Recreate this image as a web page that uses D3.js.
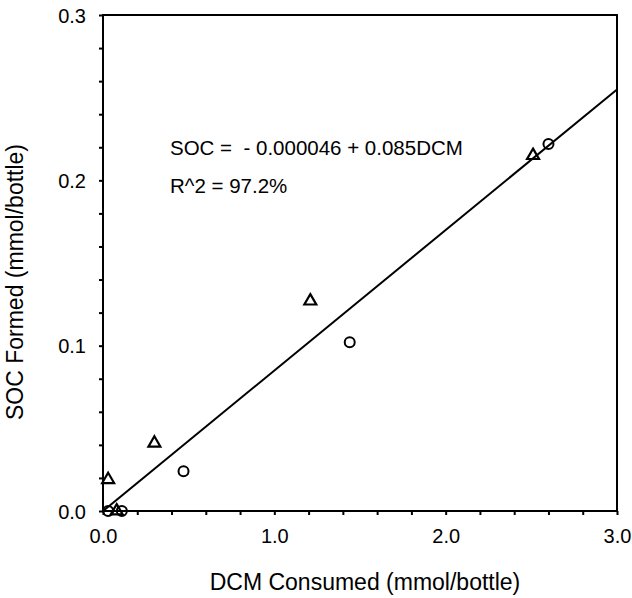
<!DOCTYPE html>
<html>
<head>
<meta charset="utf-8">
<script src="https://cdn.jsdelivr.net/npm/d3@7"></script>
<style>
  body { margin: 0; background: #fff; }
  text { font-family: "Liberation Sans", Arial, sans-serif; fill: #000; }
</style>
</head>
<body>
<div id="chart"></div>
<script>
// Data
const triX = [0.03, 0.08, 0.30, 1.21, 2.51];
const triY = [0.019, 0.0, 0.041, 0.127, 0.215];
const circX = [0.03, 0.11, 0.47, 1.44, 2.60];
const circY = [0.0, 0.0, 0.024, 0.102, 0.222];
const fitIntercept = -0.000046;
const fitSlope = 0.085;
const xTickLabels = ["0.0", "1.0", "2.0", "3.0"];
const yTickLabels = ["0.0", "0.1", "0.2", "0.3"];

const width = 632, height = 598;
const margin = { left: 103, right: 15, top: 15, bottom: 87 };

const svg = d3.select("#chart")
    .append("svg")
    .attr("width", width)
    .attr("height", height);

const x = d3.scaleLinear().domain([0, 3]).range([margin.left, width - margin.right]);
const y = d3.scaleLinear().domain([0, 0.3]).range([height - margin.bottom, margin.top]);

// frame
svg.append("rect")
    .attr("x", x(0)).attr("y", y(0.3))
    .attr("width", x(3) - x(0)).attr("height", y(0) - y(0.3))
    .style("fill", "none").style("stroke", "#000").style("stroke-width", 2);

// x axis: minor ticks every 0.2, labels on whole numbers
const xAxis = d3.axisBottom(x)
    .tickValues(d3.range(0, 3.01, 0.2))
    .tickSize(4)
    .tickSizeOuter(0)
    .tickFormat(d => {
        const i = xTickLabels.indexOf(d.toFixed(1));
        return Math.abs(d - Math.round(d)) < 1e-6 && i >= 0 ? xTickLabels[i] : "";
    });
const gx = svg.append("g").attr("transform", `translate(0,${y(0)})`).call(xAxis);
gx.select(".domain").remove();
gx.selectAll("line").style("stroke", "#000").style("stroke-width", 2);
gx.selectAll("text").style("font-size", "20px").attr("y", 32).attr("dy", 0);

// y axis: minor ticks every 0.02, labels every 0.1
const yAxis = d3.axisLeft(y)
    .tickValues(d3.range(0, 0.3001, 0.02))
    .tickSize(4)
    .tickSizeOuter(0)
    .tickFormat(d => {
        const k = Math.round(d * 100);
        return k % 10 === 0 ? yTickLabels[k / 10] : "";
    });
const gy = svg.append("g").attr("transform", `translate(${x(0)},0)`).call(yAxis);
gy.select(".domain").remove();
gy.selectAll("line").style("stroke", "#000").style("stroke-width", 2);
gy.selectAll("text").style("font-size", "20px").attr("x", -17).attr("dy", "0.36em");

// regression line
const fit = d3.line().x(d => x(d)).y(d => y(fitIntercept + fitSlope * d));
svg.append("path")
    .datum([0, 3])
    .attr("d", fit)
    .style("fill", "none").style("stroke", "#000").style("stroke-width", 2);

// circles
svg.selectAll("circle.pt")
    .data(circX.map((d, i) => [d, circY[i]]))
    .enter()
    .append("circle")
    .attr("class", "pt")
    .attr("cx", d => x(d[0]))
    .attr("cy", d => y(d[1]))
    .attr("r", 5)
    .style("fill", "none").style("stroke", "#000").style("stroke-width", 2);

// triangles
const tri = d3.symbol().type(d3.symbolTriangle).size(62);
svg.selectAll("path.tri")
    .data(triX.map((d, i) => [d, triY[i]]))
    .enter()
    .append("path")
    .attr("class", "tri")
    .attr("d", tri)
    .attr("transform", d => `translate(${x(d[0])},${y(d[1])})`)
    .style("fill", "none").style("stroke", "#000").style("stroke-width", 2.2);

// equation text
svg.append("text").attr("x", 170).attr("y", 155)
    .style("font-size", "20.5px")
    .attr("xml:space", "preserve")
    .text("SOC =  - 0.000046 + 0.085DCM");
svg.append("text").attr("x", 170).attr("y", 193)
    .style("font-size", "20.5px")
    .text("R^2 = 97.2%");

// axis titles
svg.append("text")
    .attr("x", 365).attr("y", 590)
    .attr("text-anchor", "middle")
    .style("font-size", "23px")
    .text("DCM Consumed (mmol/bottle)");
svg.append("text")
    .attr("transform", "translate(23,282) rotate(-90)")
    .attr("text-anchor", "middle")
    .style("font-size", "23px")
    .text("SOC Formed (mmol/bottle)");
</script>
</body>
</html>
